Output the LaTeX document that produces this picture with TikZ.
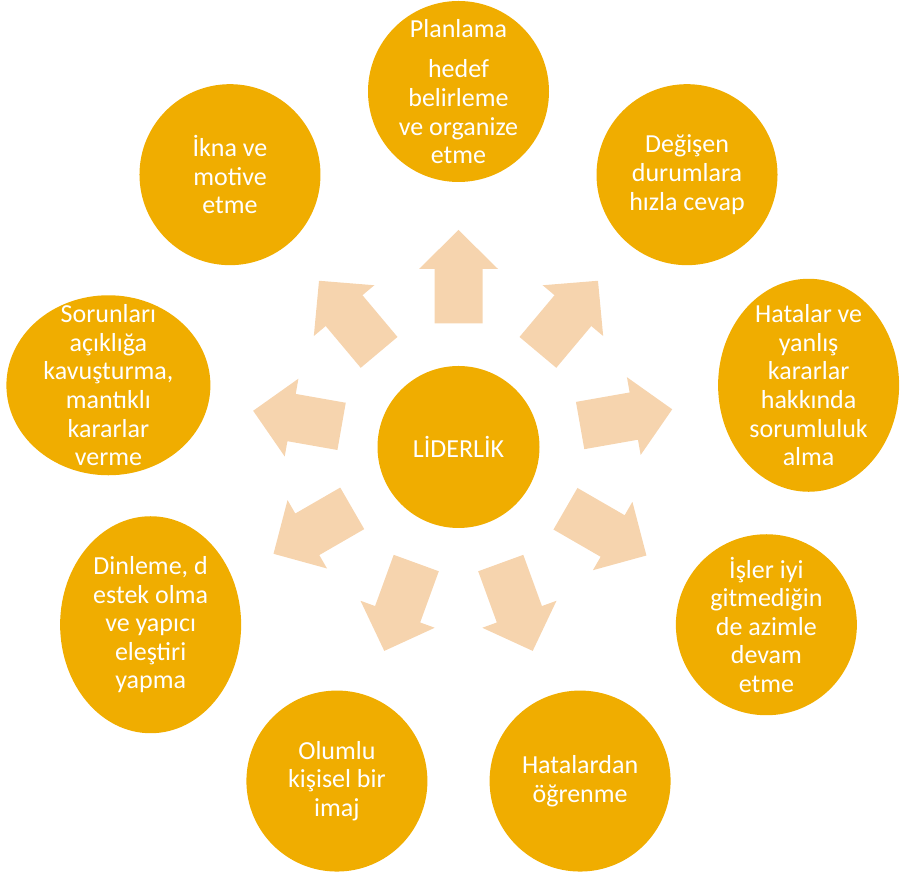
\documentclass[tikz,border=0pt]{standalone}
\usepackage{fontspec}
\setmainfont{Carlito}
\usetikzlibrary{shapes.geometric}
\definecolor{bubbleorange}{RGB}{240,173,0}
\definecolor{arrowpeach}{RGB}{246,212,174}
\begin{document}
\begin{tikzpicture}[x=1pt,y=1pt,
  bubble/.style={fill=bubbleorange,circle,inner sep=0pt,minimum size=181pt},
  oval/.style={fill=bubbleorange,ellipse,inner sep=0pt},
  bubbletext/.style={text=white,align=center,inner sep=0pt,font=\fontsize{26}{28.6}\selectfont},
  blockarrow/.style={fill=arrowpeach}]
\useasboundingbox (0,0) rectangle (903,878);
\coordinate (c) at (458.5,431);
% drawing arrows (angle / tail / tip)
\foreach \a/\t/\p in {90/123.5/217,50/123.5/217,10/123.5/217,-30/123.5/217,-70/123.5/217,
  -110/123.5/217,-150/122.7/213.6,170/118.7/208.5,130/123.5/217}{
  \fill[blockarrow,shift={(c)},rotate=\a] (\t,-24) -- ({\p-39},-24) -- ({\p-39},-39.5) -- (\p,0)
    -- ({\p-39},39.5) -- ({\p-39},24) -- (\t,24) -- cycle;
}
% drawing bubbles
\node[bubble,minimum size=162pt] (lider) at (c) {};
\node[bubble] (plan) at ([shift={(90:355.5)}]c) {};
\node[bubble] (degis) at ([shift={(50:355.5)}]c) {};
\node[oval,minimum width=181pt,minimum height=213pt] (hata) at ([shift={(10:355.5)}]c) {};
\node[bubble] (isler) at ([shift={(-30:355.5)}]c) {};
\node[bubble] (ogren) at ([shift={(-70:355.5)}]c) {};
\node[bubble] (olumlu) at ([shift={(-110:355.5)}]c) {};
\node[oval,minimum width=181pt,minimum height=217pt] (dinle) at ([shift={(-150:355.5)}]c) {};
\node[oval,minimum width=204pt,minimum height=180pt] (sorun) at ([shift={(170:355.5)}]c) {};
\node[bubble] (ikna) at ([shift={(130:355.5)}]c) {};
% drawing texts
\node[bubbletext] (lider-t) at (lider) {LİDERLİK};
\node[bubbletext] (plan-t) at (plan) {Planlama\\[12pt]hedef\\belirleme\\ve organize\\etme};
\node[bubbletext] (degis-t) at (degis) {Değişen\\durumlara\\hızla cevap};
\node[bubbletext] (hata-t) at (hata) {Hatalar ve\\yanlış\\kararlar\\hakkında\\sorumluluk\\alma};
\node[bubbletext] (isler-t) at (isler) {İşler iyi\\gitmediğin\\de azimle\\devam\\etme};
\node[bubbletext] (ogren-t) at (ogren) {Hatalardan\\öğrenme};
\node[bubbletext] (olumlu-t) at (olumlu) {Olumlu\\kişisel bir\\imaj};
\node[bubbletext] (dinle-t) at (dinle) {Dinleme, d\\estek olma\\ve yapıcı\\eleştiri\\yapma};
\node[bubbletext] (sorun-t) at (sorun) {Sorunları\\açıklığa\\kavuşturma,\\mantıklı\\kararlar\\verme};
\node[bubbletext] (ikna-t) at (ikna) {İkna ve\\motive\\etme};
\end{tikzpicture}
\end{document}
